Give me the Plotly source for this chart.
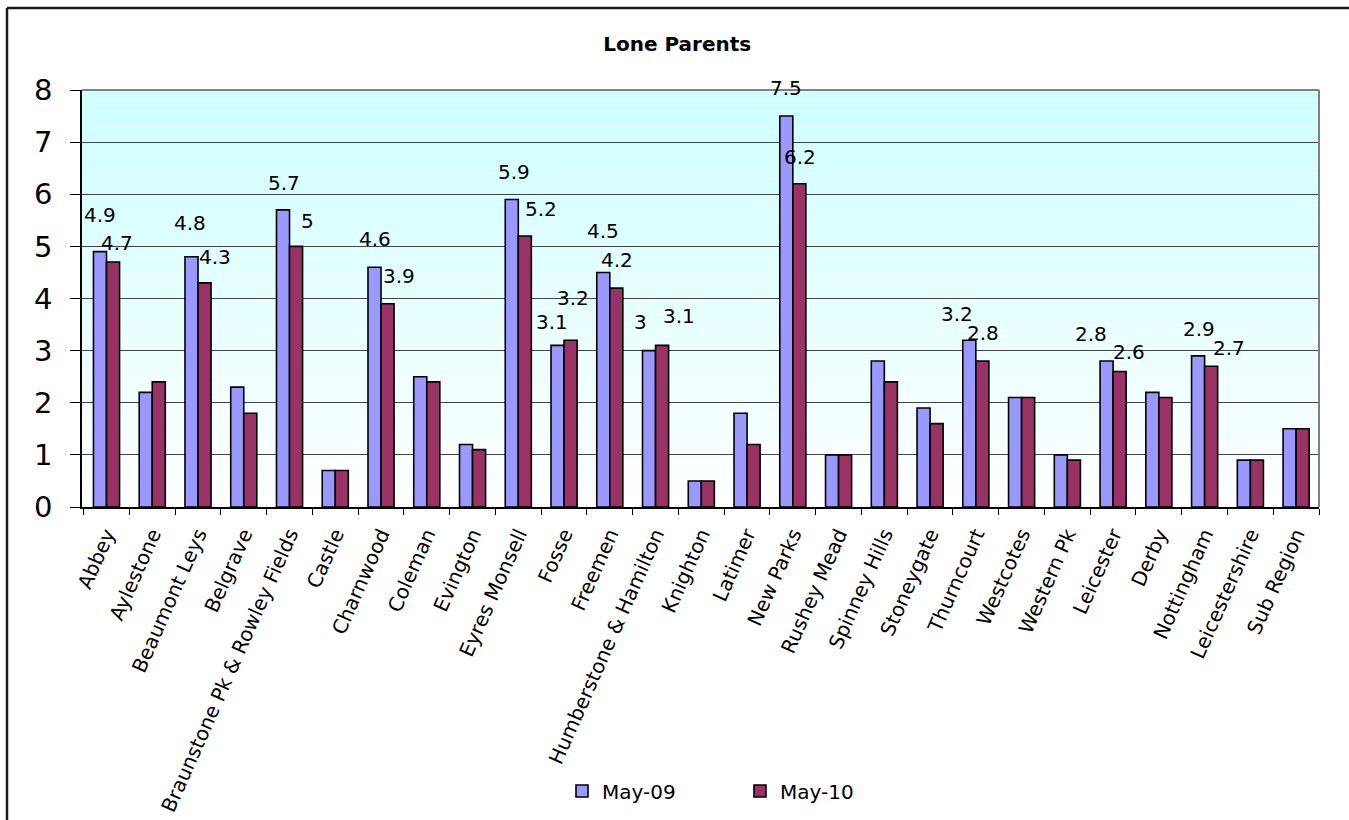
import numpy as np
import plotly.graph_objects as go

# Wards and comparison areas
categories = [
    "Abbey", "Aylestone", "Beaumont Leys", "Belgrave", "Braunstone Pk & Rowley Fields",
    "Castle", "Charnwood", "Coleman", "Evington", "Eyres Monsell", "Fosse", "Freemen",
    "Humberstone & Hamilton", "Knighton", "Latimer", "New Parks", "Rushey Mead",
    "Spinney Hills", "Stoneygate", "Thurncourt", "Westcotes", "Western Pk",
    "Leicester", "Derby", "Nottingham", "Leicestershire", "Sub Region",
]

may_09 = [4.9, 2.2, 4.8, 2.3, 5.7, 0.7, 4.6, 2.5, 1.2, 5.9, 3.1, 4.5, 3.0, 0.5,
          1.8, 7.5, 1.0, 2.8, 1.9, 3.2, 2.1, 1.0, 2.8, 2.2, 2.9, 0.9, 1.5]
may_10 = [4.7, 2.4, 4.3, 1.8, 5.0, 0.7, 3.9, 2.4, 1.1, 5.2, 3.2, 4.2, 3.1, 0.5,
          1.2, 6.2, 1.0, 2.4, 1.6, 2.8, 2.1, 0.9, 2.6, 2.1, 2.7, 0.9, 1.5]

y_ticks = [0, 1, 2, 3, 4, 5, 6, 7, 8]

# Data-label placement (pixel offset of label centre from the bar top)
label_pos_09 = {
    "Abbey": (0, 37), "Beaumont Leys": (-2, 34), "Braunstone Pk & Rowley Fields": (1, 27),
    "Charnwood": (0, 28), "Eyres Monsell": (2, 27), "Fosse": (-6, 23), "Freemen": (0, 41),
    "Humberstone & Hamilton": (-9, 29), "New Parks": (0, 28), "Thurncourt": (-12, 26),
    "Leicester": (-16, 27), "Nottingham": (1, 27),
}
label_pos_10 = {
    "Abbey": (4, 19), "Beaumont Leys": (10, 26), "Braunstone Pk & Rowley Fields": (11, 25),
    "Charnwood": (11, 28), "Eyres Monsell": (16, 27), "Fosse": (2, 42), "Freemen": (1, 28),
    "Humberstone & Hamilton": (17, 29), "New Parks": (1, 27), "Thurncourt": (1, 28),
    "Leicester": (9, 19), "Nottingham": (18, 18),
}

FONT = "DejaVu Sans, Liberation Sans, Arial, sans-serif"
W, H = 1349, 820
ML, MR, MT, MB = 82, 30, 90, 313
PW, PH = W - ML - MR, H - MT - MB

fig = go.Figure()
fig.add_bar(name="May-09", x=categories, y=may_09, marker_color="#9999FF",
            marker_line=dict(color="#000000", width=1.6))
fig.add_bar(name="May-10", x=categories, y=may_10, marker_color="#993366",
            marker_line=dict(color="#000000", width=1.6))

def fmt(v):
    return f"{v:g}"

bar_half = 6.5
annotations = []
for pos, vals, sx in ((label_pos_09, may_09, -bar_half), (label_pos_10, may_10, bar_half)):
    for cat, (dx, dy) in pos.items():
        v = vals[categories.index(cat)]
        annotations.append(dict(
            x=cat, y=v, xref="x", yref="y", text=fmt(v), showarrow=False,
            xshift=sx + dx, yshift=dy, xanchor="center", yanchor="middle",
            font=dict(family=FONT, size=20, color="#000000"),
        ))

# Plot-area fill: cyan at the top fading to white at the bottom
shapes = []
n = 80
edges = np.linspace(0, 8, n + 1)
top_rgb = np.array([204, 255, 255])
bot_rgb = np.array([255, 255, 255])
for i in range(n):
    t = (i + 0.5) / n
    c = bot_rgb + (top_rgb - bot_rgb) * t
    shapes.append(dict(type="rect", xref="paper", yref="y", x0=0, x1=1,
                       y0=edges[i], y1=edges[i + 1], layer="below", line_width=0,
                       fillcolor=f"rgb({c[0]:.0f},{c[1]:.0f},{c[2]:.0f})"))

# Plot-area border (top and right)
shapes.append(dict(type="line", xref="paper", yref="paper", x0=0, x1=1, y0=1, y1=1,
                   line=dict(color="#808080", width=2), layer="above"))
shapes.append(dict(type="line", xref="paper", yref="paper", x0=1, x1=1, y0=0, y1=1,
                   line=dict(color="#808080", width=2), layer="above"))

# Chart frame
fx0 = (7 - ML) / PW
fx1 = (W - ML) / PW
fy_top = (MT + PH - 8) / PH
fy_bot = (MT + PH - H) / PH
shapes.append(dict(type="line", xref="paper", yref="paper", x0=fx0, x1=fx1, y0=fy_top, y1=fy_top,
                   line=dict(color="#1a1a1a", width=2.5), layer="above"))
shapes.append(dict(type="line", xref="paper", yref="paper", x0=fx0, x1=fx0, y0=fy_top, y1=fy_bot,
                   line=dict(color="#1a1a1a", width=2.5), layer="above"))

fig.update_layout(
    width=W, height=H,
    margin=dict(l=ML, r=MR, t=MT, b=MB, autoexpand=False),
    paper_bgcolor="#FFFFFF", plot_bgcolor="#FFFFFF",
    barmode="group", bargap=0.43, bargroupgap=0,
    title=dict(text="<b>Lone Parents</b>", x=0.502, xref="container", xanchor="center",
               y=1 - 44 / H, yref="container", yanchor="middle",
               font=dict(family=FONT, size=20, color="#000000")),
    showlegend=True,
    legend=dict(orientation="h", x=(740 - ML) / PW, xanchor="center",
                y=(MT + PH - 791) / PH, yanchor="middle",
                font=dict(family=FONT, size=20, color="#000000"),
                entrywidth=133, bgcolor="rgba(0,0,0,0)"),
    annotations=annotations,
    shapes=shapes,
)

fig.update_xaxes(
    type="category", showline=True, linecolor="#000000", linewidth=1.5,
    ticks="outside", tickson="boundaries", ticklen=6, tickcolor="#000000",
    tickangle=-66, showgrid=False, ticklabelstandoff=6, automargin=False,
    tickfont=dict(family=FONT, size=20, color="#000000"),
)
fig.update_yaxes(
    range=[0, 8], tickvals=y_ticks, showline=True, linecolor="#000000", linewidth=1.5,
    ticks="outside", ticklen=10, tickcolor="#000000", ticklabelstandoff=12, automargin=False,
    showgrid=True, gridcolor="#444444", gridwidth=1, zeroline=False,
    tickfont=dict(family=FONT, size=29, color="#000000"),
)

fig.write_html("out.html")
